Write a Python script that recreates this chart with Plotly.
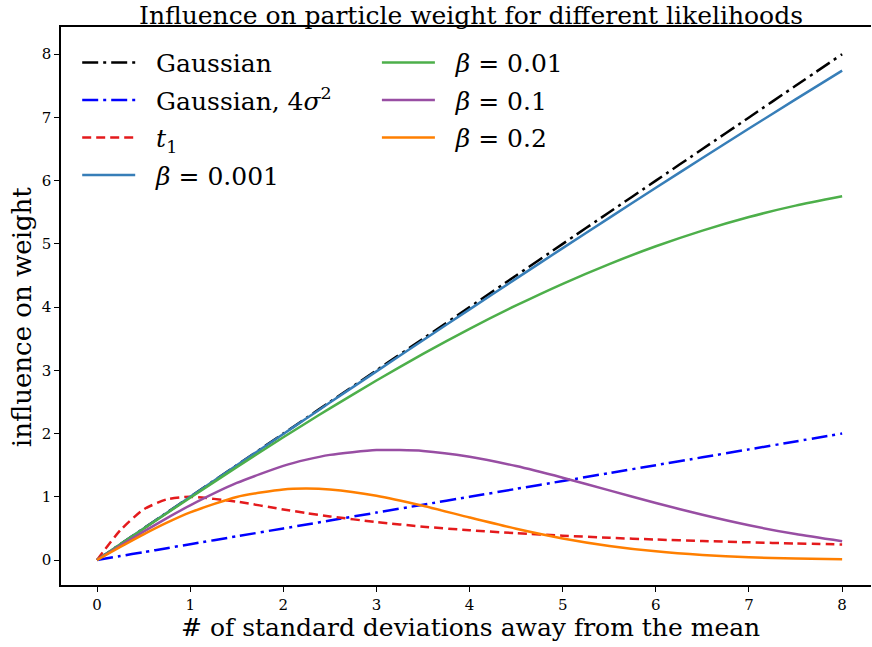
import plotly.graph_objects as go

# Distance from the mean, in standard deviations
x_sd = [0, 0.25, 0.5, 0.75, 1, 1.5, 2, 2.25, 2.5, 3, 3.5, 4, 4.5, 5, 5.5, 6, 6.5, 7, 7.5, 8]

# Influence of an observation on the particle weight
gaussian = [0, 0.25, 0.5, 0.75, 1, 1.5, 2, 2.25, 2.5, 3, 3.5, 4, 4.5, 5, 5.5, 6, 6.5, 7, 7.5, 8]
gaussian_4var = [0, 0.0625, 0.125, 0.1875, 0.25, 0.375, 0.5, 0.5625, 0.625, 0.75, 0.875, 1.0,
                 1.125, 1.25, 1.375, 1.5, 1.625, 1.75, 1.875, 2.0]
student_t1 = [0, 0.471, 0.8, 0.96, 1.0, 0.923, 0.8, 0.742, 0.690, 0.6, 0.528, 0.471,
              0.424, 0.385, 0.352, 0.324, 0.301, 0.28, 0.262, 0.246]
beta_0001 = [0, 0.250, 0.4995, 0.749, 0.9985, 1.497, 1.994, 2.242, 2.490, 2.984, 3.475, 3.964,
             4.450, 4.933, 5.412, 5.887, 6.358, 6.824, 7.285, 7.740]
beta_001 = [0, 0.247, 0.494, 0.741, 0.985, 1.469, 1.941, 2.172, 2.399, 2.840, 3.260, 3.656,
            4.026, 4.369, 4.681, 4.962, 5.210, 5.425, 5.605, 5.752]
beta_01 = [0, 0.227, 0.449, 0.663, 0.865, 1.219, 1.489, 1.588, 1.663, 1.739, 1.725, 1.634,
           1.486, 1.302, 1.102, 0.902, 0.715, 0.549, 0.410, 0.296]
beta_02 = [0, 0.207, 0.406, 0.591, 0.754, 0.998, 1.117, 1.130, 1.115, 1.016, 0.857, 0.673,
           0.495, 0.342, 0.223, 0.137, 0.079, 0.043, 0.023, 0.011]

x_ticks = [0, 1, 2, 3, 4, 5, 6, 7, 8]
y_ticks = [0, 1, 2, 3, 4, 5, 6, 7, 8]

SERIF = "DejaVu Serif"
LW = 2.5
TEXT_SIZE = 25
TICK_SIZE = 15
PAD = "\u00a0\u00a0"  # extra room between legend line sample and label

series = [
    ("Gaussian", gaussian, "#000000", "16px,5px,3px,5px", "legend"),
    ("Gaussian, 4<i>σ</i><sup>2</sup>", gaussian_4var, "#0000ff", "16px,5px,3px,5px", "legend"),
    ("<i>t</i><sub>1</sub>", student_t1, "#e41a1c", "9px,5px", "legend"),
    ("<i>β</i> = 0.001", beta_0001, "#377eb8", "solid", "legend"),
    ("<i>β</i> = 0.01", beta_001, "#4daf4a", "solid", "legend2"),
    ("<i>β</i> = 0.1", beta_01, "#984ea3", "solid", "legend2"),
    ("<i>β</i> = 0.2", beta_02, "#ff7f00", "solid", "legend2"),
]

fig = go.Figure()
for i, (name, ys, color, dash, leg) in enumerate(series):
    fig.add_trace(go.Scatter(
        x=x_sd, y=ys, mode="lines", name=PAD + name,
        line=dict(color=color, width=LW, dash=dash, shape="spline", smoothing=0.6),
        legend=leg, legendgroup=f"g{i}",
    ))

legend_style = dict(
    bgcolor="rgba(0,0,0,0)", borderwidth=0,
    font=dict(family=SERIF, size=TEXT_SIZE, color="#000000"),
    tracegroupgap=2, itemwidth=53, traceorder="grouped",
    xanchor="left", yanchor="top",
)

fig.update_layout(
    width=872, height=647,
    margin=dict(l=61, r=1, t=27, b=62),
    paper_bgcolor="white", plot_bgcolor="white",
    showlegend=True,
    legend=dict(x=0.02, y=0.977, **legend_style),
    legend2=dict(x=0.39, y=0.977, **legend_style),
    font=dict(family=SERIF, color="#000000"),
    xaxis=dict(
        range=[-0.387, 8.31], tickvals=x_ticks, ticktext=[str(t) for t in x_ticks],
        showgrid=False, zeroline=False, showline=True, linecolor="#000000",
        linewidth=1.6, mirror=True, ticks="outside", ticklen=5, tickwidth=1,
        tickcolor="#000000", tickfont=dict(family=SERIF, size=TICK_SIZE),
    ),
    yaxis=dict(
        range=[-0.395, 8.43], tickvals=y_ticks, ticktext=[str(t) for t in y_ticks],
        showgrid=False, zeroline=False, showline=True, linecolor="#000000",
        linewidth=1.6, ticks="outside", ticklen=5, tickwidth=1,
        tickcolor="#000000", tickfont=dict(family=SERIF, size=TICK_SIZE),
    ),
    annotations=[
        dict(text="Influence on particle weight for different likelihoods",
             xref="paper", yref="paper", x=0.506, y=1.0, yshift=28,
             xanchor="center", yanchor="top", showarrow=False,
             font=dict(family=SERIF, size=TEXT_SIZE)),
        dict(text="# of standard deviations away from the mean",
             xref="paper", yref="paper", x=0.505, y=0, yshift=-42,
             xanchor="center", yanchor="middle", showarrow=False,
             font=dict(family=SERIF, size=TEXT_SIZE)),
        dict(text="influence on weight", textangle=-90,
             xref="paper", yref="paper", x=0, y=0.48, xshift=-39,
             xanchor="center", yanchor="middle", showarrow=False,
             font=dict(family=SERIF, size=26)),
    ],
)

fig.write_html("out.html")
